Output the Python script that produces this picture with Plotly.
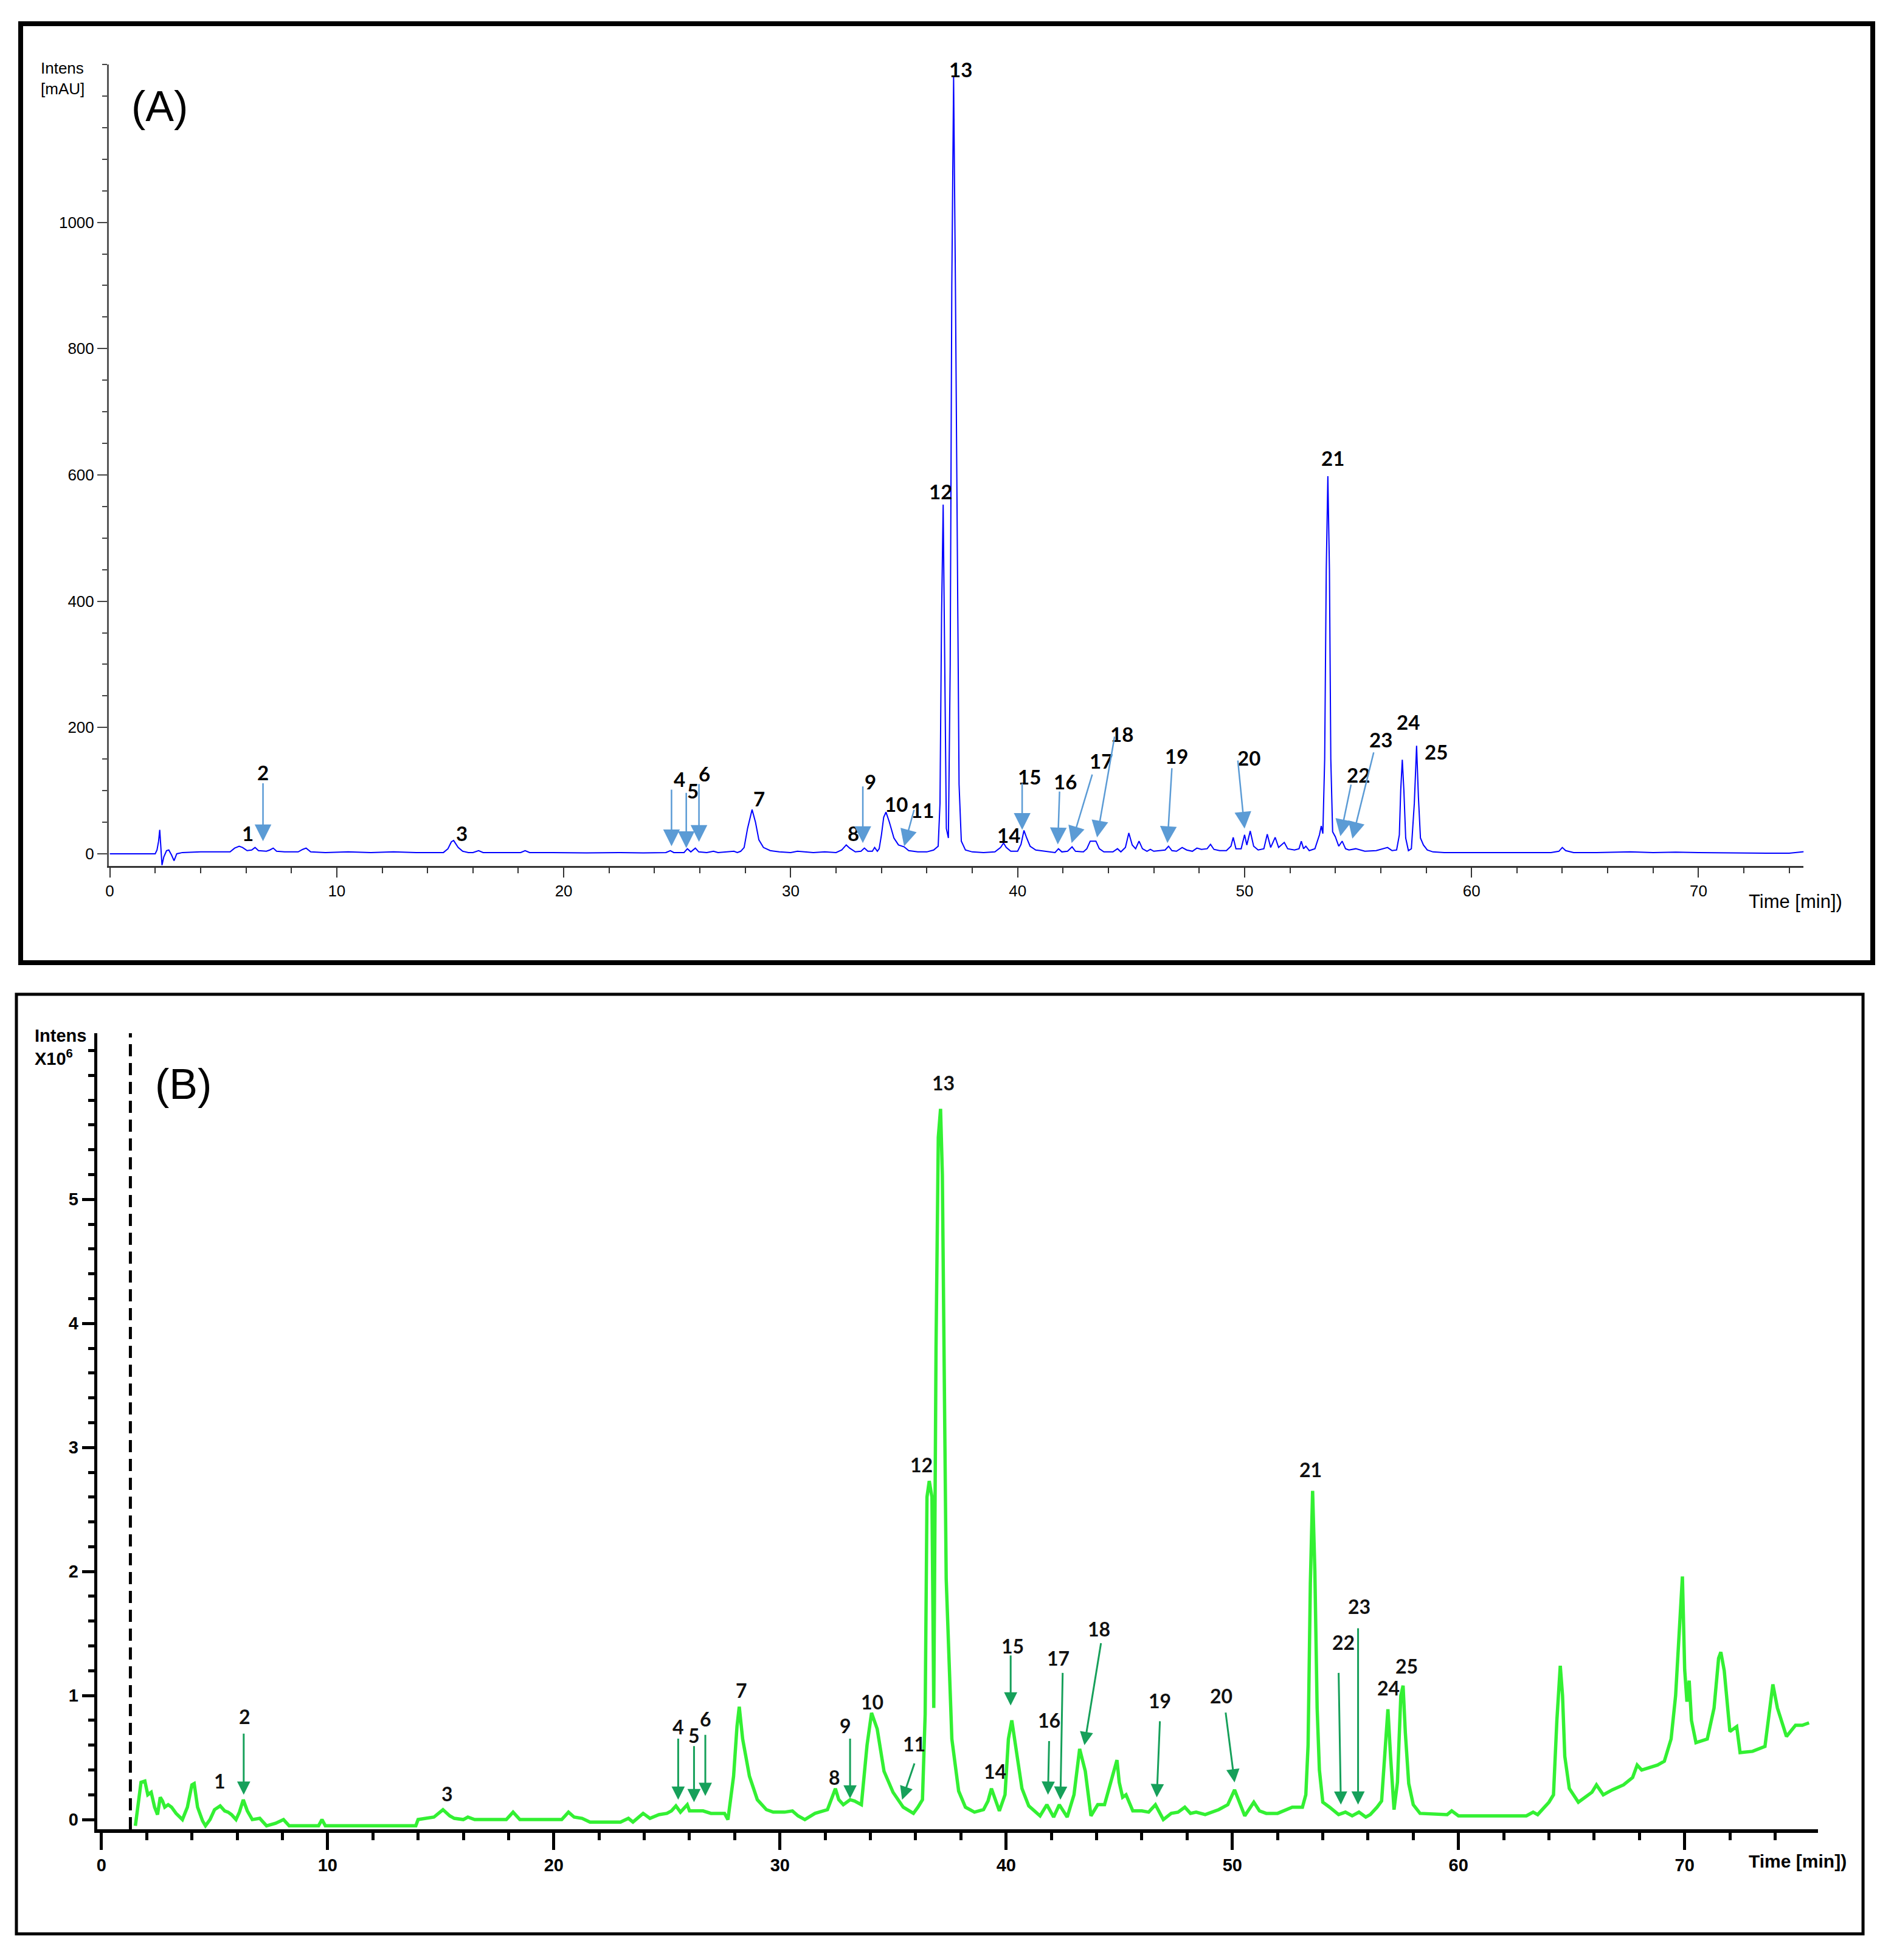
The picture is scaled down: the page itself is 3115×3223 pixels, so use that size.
import plotly.graph_objects as go

# ---------------- data ----------------
# Panel A: UV chromatogram (time [min], intensity [mAU])
A_trace = [
    (0.0, 0), (2.0, 0), (2.08, 6), (2.15, 20), (2.2, 38), (2.25, 10), (2.3, -18), (2.38, -5),
    (2.5, 5), (2.6, 6), (2.72, -2), (2.83, -11), (2.95, 0), (3.2, 2), (4.0, 3), (5.0, 3),
    (5.3, 3), (5.5, 9), (5.7, 12), (5.85, 10), (6.05, 5), (6.25, 6), (6.4, 10), (6.55, 5),
    (6.9, 4), (7.05, 6), (7.2, 9), (7.35, 4), (7.7, 3), (8.3, 3), (8.5, 7), (8.65, 9),
    (8.85, 3), (9.5, 2), (10.5, 3), (11.5, 2), (12.5, 3), (13.5, 2), (14.5, 2), (14.7, 2),
    (14.9, 8), (15.05, 19), (15.15, 21), (15.35, 10), (15.55, 4), (15.8, 2), (16.0, 2),
    (16.25, 5), (16.45, 2), (17.2, 2), (18.1, 2), (18.3, 5), (18.5, 2), (19.5, 2), (21.0, 1.5),
    (22.5, 2), (23.5, 1.5), (24.5, 2), (24.7, 5), (24.85, 2), (25.3, 2), (25.45, 8), (25.6, 3),
    (25.8, 9), (25.95, 3), (26.3, 2), (26.6, 4), (26.8, 2), (27.2, 3), (27.5, 4), (27.65, 2),
    (27.8, 4), (27.95, 10), (28.1, 40), (28.3, 70), (28.45, 50), (28.6, 22), (28.8, 10),
    (29.1, 5), (29.5, 3), (30.0, 2), (30.3, 4), (31.0, 2), (31.5, 3), (32.0, 2), (32.25, 6),
    (32.45, 14), (32.6, 9), (32.85, 3), (33.1, 4), (33.25, 9), (33.4, 4), (33.6, 4), (33.7, 10),
    (33.82, 4), (33.9, 8), (34.0, 30), (34.1, 58), (34.2, 66), (34.35, 50), (34.55, 25),
    (34.75, 14), (35.0, 11), (35.2, 5), (35.6, 3), (36.0, 3), (36.3, 6), (36.42, 10), (36.5, 12),
    (36.58, 80), (36.65, 380), (36.72, 553), (36.79, 300), (36.86, 40), (36.95, 25), (37.03, 300),
    (37.1, 900), (37.18, 1230), (37.26, 900), (37.34, 450), (37.42, 110), (37.52, 20), (37.7, 6),
    (38.0, 3), (38.5, 2), (39.0, 3), (39.25, 10), (39.38, 17), (39.5, 10), (39.7, 4), (40.0, 4),
    (40.15, 15), (40.28, 37), (40.4, 25), (40.55, 12), (40.8, 6), (41.2, 4), (41.5, 3), (41.65, 2),
    (41.8, 8), (41.95, 3), (42.2, 4), (42.4, 11), (42.55, 4), (42.9, 3), (43.05, 8), (43.2, 20),
    (43.45, 20), (43.6, 8), (43.8, 3), (44.2, 3), (44.4, 8), (44.55, 3), (44.75, 10), (44.9, 33),
    (45.05, 14), (45.2, 8), (45.35, 20), (45.5, 8), (45.7, 4), (45.85, 7), (46.0, 4), (46.3, 5),
    (46.5, 6), (46.65, 12), (46.8, 5), (47.0, 4), (47.25, 10), (47.45, 6), (47.7, 4), (47.9, 9),
    (48.1, 7), (48.35, 8), (48.5, 15), (48.65, 7), (48.9, 5), (49.2, 5), (49.4, 12), (49.5, 26),
    (49.62, 8), (49.85, 8), (50.0, 30), (50.1, 14), (50.25, 36), (50.4, 12), (50.6, 6), (50.85, 8),
    (51.0, 31), (51.15, 10), (51.35, 26), (51.5, 10), (51.75, 18), (51.9, 8), (52.2, 6), (52.4, 8),
    (52.5, 20), (52.6, 8), (52.7, 12), (52.85, 5), (53.1, 8), (53.3, 30), (53.38, 44), (53.45, 32),
    (53.53, 150), (53.6, 450), (53.67, 598), (53.74, 450), (53.8, 150), (53.88, 35), (54.0, 27),
    (54.15, 12), (54.3, 20), (54.45, 8), (54.6, 6), (54.9, 8), (55.3, 4), (55.8, 5), (56.3, 10),
    (56.5, 5), (56.7, 6), (56.82, 30), (56.88, 100), (56.95, 149), (57.02, 100), (57.1, 25),
    (57.22, 5), (57.35, 8), (57.48, 80), (57.58, 171), (57.66, 90), (57.75, 25), (57.88, 14),
    (58.05, 6), (58.3, 3), (58.8, 2), (59.5, 2), (60.5, 1.5), (61.5, 2), (62.5, 1.5), (63.5, 2),
    (63.85, 4), (64.0, 10), (64.15, 5), (64.5, 2), (65.5, 2), (66.5, 2.5), (67.0, 3), (68.0, 2),
    (69.0, 2.5), (70.0, 2), (71.0, 1.5), (72.0, 1), (73.0, 1), (74.0, 1), (74.5, 3), (74.8, 4),
]
A_time = [p[0] for p in A_trace]
A_int = [p[1] for p in A_trace]

# Panel B: MS chromatogram (time [min], intensity x10^6)
B_trace = [
    (1.5, -0.05), (1.6, 0.1), (1.75, 0.3), (1.92, 0.31), (2.05, 0.2), (2.2, 0.22), (2.35, 0.1),
    (2.48, 0.04), (2.6, 0.18), (2.7, 0.15), (2.8, 0.1), (2.95, 0.12), (3.1, 0.1), (3.3, 0.05),
    (3.58, 0.0), (3.8, 0.1), (4.0, 0.28), (4.1, 0.29), (4.25, 0.1), (4.47, -0.01), (4.6, -0.05),
    (4.8, 0.0), (5.0, 0.08), (5.25, 0.11), (5.45, 0.07), (5.6, 0.06), (5.75, 0.04), (5.95, 0.0),
    (6.1, 0.06), (6.27, 0.16), (6.45, 0.07), (6.67, 0.0), (7.0, 0.01), (7.3, -0.05), (7.7, -0.03),
    (8.05, 0.0), (8.3, -0.05), (9.6, -0.05), (9.75, 0.0), (9.9, -0.05), (13.9, -0.05), (14.0, 0.0),
    (14.35, 0.01), (14.7, 0.02), (15.1, 0.08), (15.4, 0.03), (15.6, 0.01), (16.0, 0.0), (16.2, 0.02),
    (16.5, 0.0), (17.9, 0.0), (18.2, 0.06), (18.5, 0.0), (20.35, 0.0), (20.65, 0.06), (20.9, 0.02),
    (21.25, 0.01), (21.6, -0.02), (22.95, -0.02), (23.3, 0.01), (23.5, -0.02), (23.75, 0.02),
    (23.95, 0.05), (24.25, 0.01), (24.65, 0.04), (25.0, 0.05), (25.2, 0.07), (25.4, 0.11),
    (25.6, 0.06), (25.9, 0.12), (26.0, 0.07), (26.6, 0.07), (26.95, 0.05), (27.55, 0.05),
    (27.7, 0.0), (27.95, 0.35), (28.1, 0.75), (28.2, 0.91), (28.35, 0.65), (28.5, 0.5),
    (28.65, 0.35), (29.0, 0.16), (29.4, 0.08), (29.7, 0.06), (30.2, 0.06), (30.55, 0.07),
    (30.8, 0.03), (31.1, 0.0), (31.55, 0.05), (32.1, 0.08), (32.3, 0.18), (32.45, 0.25),
    (32.6, 0.16), (32.8, 0.12), (33.1, 0.16), (33.3, 0.15), (33.6, 0.12), (33.85, 0.6),
    (34.05, 0.86), (34.3, 0.73), (34.6, 0.39), (34.8, 0.3), (35.0, 0.22), (35.45, 0.1),
    (35.9, 0.05), (36.1, 0.1), (36.3, 0.16), (36.42, 0.85), (36.5, 2.6), (36.6, 2.73),
    (36.72, 2.6), (36.8, 0.9), (36.9, 3.8), (37.0, 5.5), (37.1, 5.73), (37.18, 5.2), (37.25, 4.0),
    (37.35, 1.94), (37.6, 0.65), (37.9, 0.23), (38.2, 0.1), (38.6, 0.06), (39.0, 0.08),
    (39.2, 0.15), (39.35, 0.25), (39.5, 0.17), (39.7, 0.07), (39.95, 0.2), (40.1, 0.65),
    (40.25, 0.8), (40.45, 0.57), (40.7, 0.25), (41.0, 0.11), (41.5, 0.03), (41.8, 0.12),
    (42.1, 0.02), (42.35, 0.12), (42.7, 0.02), (43.0, 0.2), (43.25, 0.57), (43.5, 0.39),
    (43.75, 0.03), (44.05, 0.12), (44.35, 0.12), (44.7, 0.35), (44.9, 0.48), (45.0, 0.3),
    (45.15, 0.18), (45.3, 0.2), (45.6, 0.07), (46.0, 0.07), (46.3, 0.06), (46.6, 0.12),
    (46.95, 0.0), (47.3, 0.05), (47.6, 0.06), (47.9, 0.1), (48.15, 0.05), (48.4, 0.06),
    (48.8, 0.04), (49.4, 0.08), (49.8, 0.12), (50.1, 0.24), (50.35, 0.12), (50.55, 0.03),
    (50.95, 0.14), (51.2, 0.07), (51.5, 0.05), (52.0, 0.05), (52.65, 0.1), (53.1, 0.1),
    (53.25, 0.2), (53.35, 0.6), (53.45, 1.9), (53.55, 2.65), (53.65, 2.0), (53.75, 0.9),
    (53.85, 0.4), (54.0, 0.14), (54.3, 0.1), (54.7, 0.04), (55.0, 0.06), (55.3, 0.03),
    (55.6, 0.06), (55.9, 0.02), (56.1, 0.04), (56.4, 0.1), (56.6, 0.15), (56.75, 0.6),
    (56.88, 0.89), (57.0, 0.5), (57.15, 0.08), (57.3, 0.3), (57.45, 1.0), (57.55, 1.08),
    (57.65, 0.7), (57.8, 0.29), (58.0, 0.12), (58.3, 0.05), (59.5, 0.04), (59.7, 0.07),
    (60.0, 0.03), (63.0, 0.03), (63.3, 0.06), (63.5, 0.04), (63.8, 0.1), (64.0, 0.14),
    (64.2, 0.2), (64.35, 0.8), (64.5, 1.24), (64.6, 1.0), (64.7, 0.51), (64.9, 0.25),
    (65.3, 0.14), (65.6, 0.18), (65.9, 0.22), (66.1, 0.28), (66.4, 0.2), (66.8, 0.24),
    (67.3, 0.28), (67.7, 0.34), (67.9, 0.44), (68.1, 0.4), (68.5, 0.42), (68.8, 0.44),
    (69.1, 0.47), (69.4, 0.65), (69.6, 1.0), (69.8, 1.6), (69.9, 1.96), (70.0, 1.21),
    (70.1, 0.95), (70.2, 1.12), (70.3, 0.8), (70.5, 0.62), (71.0, 0.65), (71.3, 0.9),
    (71.5, 1.3), (71.6, 1.35), (71.75, 1.2), (72.0, 0.71), (72.3, 0.75), (72.45, 0.54),
    (73.0, 0.55), (73.55, 0.59), (73.75, 0.9), (73.9, 1.09), (74.1, 0.9), (74.5, 0.67),
    (74.9, 0.76), (75.2, 0.76), (75.5, 0.78),
]
B_time = [p[0] for p in B_trace]
B_int = [p[1] for p in B_trace]

peak_labels = [str(i) for i in range(1, 26)]

# peak-number label anchors (time, intensity) for each panel
A_label_t = [6.07, 6.74, 15.5, 25.1, 25.7, 26.2, 28.6, 32.75, 33.5, 34.65, 35.8, 36.6, 37.5,
             39.6, 40.52, 42.09, 43.69, 44.6, 47.0, 50.2, 53.9, 55.0, 56.0, 57.2, 58.45]
A_label_y = [33, 129, 33, 118, 100, 127, 88, 33, 115, 79, 69, 574, 1242,
             30, 122, 115, 147, 190, 155, 152, 627, 125, 181, 209, 162]
B_label_t = [5.24, 6.34, 15.3, 25.5, 26.2, 26.7, 28.3, 32.4, 32.9, 34.07, 35.94, 36.25, 37.23,
             39.5, 40.3, 41.9, 42.3, 44.1, 46.8, 49.5, 53.45, 54.9, 55.6, 56.9, 57.7]
B_label_y = [0.31, 0.83, 0.21, 0.75, 0.68, 0.81, 1.04, 0.34, 0.76, 0.95, 0.61, 2.86, 5.94,
             0.39, 1.4, 0.8, 1.3, 1.54, 0.96, 1.0, 2.82, 1.43, 1.72, 1.06, 1.24]

# arrows: label -> (tail_t, tail_y, tip_t, tip_y)
A_arrows = {
    "2": (6.75, 113, 6.75, 20), "4": (24.75, 103, 24.75, 12), "5": (25.4, 98, 25.4, 9),
    "6": (25.96, 112, 25.96, 19), "9": (33.18, 108, 33.18, 17), "11": (35.45, 71, 35.0, 12),
    "15": (40.2, 113, 40.2, 38), "16": (41.85, 100, 41.77, 15), "17": (43.3, 127, 42.38, 17),
    "18": (44.28, 187, 43.5, 26), "19": (46.8, 137, 46.6, 17), "20": (49.7, 149, 50.0, 40),
    "22": (54.7, 111, 54.22, 28), "23": (55.7, 162, 54.75, 24),
}
B_arrows = {
    "2": (6.29, 0.70, 6.29, 0.2), "4": (25.5, 0.66, 25.5, 0.16), "5": (26.2, 0.6, 26.2, 0.14),
    "6": (26.7, 0.69, 26.7, 0.19), "9": (33.1, 0.66, 33.1, 0.17), "11": (35.96, 0.46, 35.4, 0.16),
    "15": (40.2, 1.33, 40.2, 0.92), "16": (41.9, 0.64, 41.85, 0.2), "17": (42.5, 1.19, 42.4, 0.16),
    "18": (44.2, 1.43, 43.46, 0.6), "19": (46.8, 0.8, 46.66, 0.18), "20": (49.7, 0.87, 50.1, 0.3),
    "22": (54.7, 1.19, 54.8, 0.12), "23": (55.56, 1.55, 55.56, 0.12),
}

A_yticks = [0, 200, 400, 600, 800, 1000]
B_yticks = [0, 1, 2, 3, 4, 5]
x_ticks = [0, 10, 20, 30, 40, 50, 60, 70]

# ---------------- layout helpers ----------------
OFF = 8
W, H = 3115 - 2 * OFF, 3223 - 2 * OFF


def px(X):
    return (X - OFF) / W


def py(Y):
    return 1 - (Y - OFF) / H


SANS = "Liberation Sans, Arial, sans-serif"
LBL = "Lato, Liberation Sans, sans-serif"
A_BLUE = "#0000FF"
A_ARROW = "#5B9BD5"
B_GREEN = "#33F033"
B_ARROW = "#16A05A"

fig = go.Figure()
fig.add_trace(go.Scatter(x=A_time, y=A_int, mode="lines", line=dict(color=A_BLUE, width=2),
                         xaxis="x", yaxis="y", hoverinfo="skip"))
fig.add_trace(go.Scatter(x=B_time, y=B_int, mode="lines", line=dict(color=B_GREEN, width=5.5),
                         xaxis="x2", yaxis="y2", hoverinfo="skip"))

annotations = []
for lab, t, y in zip(peak_labels, A_label_t, A_label_y):
    annotations.append(dict(x=t, y=y, xref="x", yref="y", text=lab, showarrow=False,
                            font=dict(family=LBL, size=33, color="black", weight="bold"),
                            xanchor="center", yanchor="middle"))
for lab, (tt, ty, ht, hy) in A_arrows.items():
    annotations.append(dict(x=ht, y=hy, ax=tt, ay=ty, xref="x", yref="y", axref="x", ayref="y",
                            text="", showarrow=True, arrowhead=2, arrowsize=2.2, arrowwidth=2.5,
                            arrowcolor=A_ARROW, standoff=0))
for lab, t, y in zip(peak_labels, B_label_t, B_label_y):
    annotations.append(dict(x=t, y=y, xref="x2", yref="y2", text=lab, showarrow=False,
                            font=dict(family=LBL, size=32, color="#111111", weight="bold"),
                            xanchor="center", yanchor="middle"))
for lab, (tt, ty, ht, hy) in B_arrows.items():
    annotations.append(dict(x=ht, y=hy, ax=tt, ay=ty, xref="x2", yref="y2", axref="x2", ayref="y2",
                            text="", showarrow=True, arrowhead=2, arrowsize=1.45, arrowwidth=3,
                            arrowcolor=B_ARROW, standoff=0))

# panel titles / axis captions
annotations += [
    dict(x=px(60), y=py(129), xref="paper", yref="paper", text="Intens<br>[mAU]", showarrow=False,
         xanchor="left", yanchor="middle", align="left", font=dict(family=SANS, size=26, color="black")),
    dict(x=px(258), y=py(175), xref="paper", yref="paper", text="(A)", showarrow=False,
         xanchor="center", yanchor="middle", font=dict(family=SANS, size=70, color="black")),
    dict(x=px(2874), y=py(1482), xref="paper", yref="paper", text="Time [min])", showarrow=False,
         xanchor="left", yanchor="middle", font=dict(family=SANS, size=31, color="black")),
    dict(x=px(50), y=py(1722), xref="paper", yref="paper", text="Intens<br>X10<sup>6</sup>",
         showarrow=False, xanchor="left", yanchor="middle", align="left",
         font=dict(family=SANS, size=29, color="black", weight="bold")),
    dict(x=px(297), y=py(1783), xref="paper", yref="paper", text="(B)", showarrow=False,
         xanchor="center", yanchor="middle", font=dict(family=SANS, size=70, color="black")),
    dict(x=px(2874), y=py(3060), xref="paper", yref="paper", text="Time [min])", showarrow=False,
         xanchor="left", yanchor="middle",
         font=dict(family=SANS, size=30, color="black", weight="bold")),
]

shapes = [
    dict(type="rect", xref="paper", yref="paper", x0=px(29), x1=px(3080), y0=py(1583), y1=py(39),
         line=dict(color="black", width=8), fillcolor="rgba(0,0,0,0)"),
    dict(type="rect", xref="paper", yref="paper", x0=px(22), x1=px(3064), y0=py(3180), y1=py(1635),
         line=dict(color="black", width=5), fillcolor="rgba(0,0,0,0)"),
    dict(type="line", xref="x2", yref="y2", x0=1.28, x1=1.28, y0=-0.078, y1=6.34,
         line=dict(color="black", width=5, dash="20px,11px")),
]

fig.update_layout(
    width=W, height=H, margin=dict(l=0, r=0, t=0, b=0),
    paper_bgcolor="white", plot_bgcolor="white", showlegend=False,
    annotations=annotations, shapes=shapes,
    xaxis=dict(domain=[px(174), px(2966)], range=[-0.05, 74.63], anchor="y",
               showgrid=False, zeroline=False, showline=True, linecolor="#333333", linewidth=3,
               tickvals=x_ticks, ticks="outside", ticklen=16, tickwidth=2, tickcolor="#333333",
               tickfont=dict(family=SANS, size=26, color="black"),
               minor=dict(dtick=2, tick0=0, ticks="outside", ticklen=9, tickwidth=2, tickcolor="#333333")),
    yaxis=dict(domain=[py(1424), py(106)], range=[-19.3, 1250], anchor="x",
               showgrid=False, zeroline=False, showline=True, linecolor="#555555", linewidth=2.5,
               tickvals=A_yticks, ticks="outside", ticklen=16, tickwidth=2, tickcolor="#444444",
               tickfont=dict(family=SANS, size=26, color="black"),
               minor=dict(dtick=50, tick0=0, ticks="outside", ticklen=8, tickwidth=2, tickcolor="#444444")),
    xaxis2=dict(domain=[px(155), px(2990)], range=[-0.19, 75.9], anchor="y2",
                showgrid=False, zeroline=False, showline=True, linecolor="black", linewidth=6,
                tickvals=x_ticks, ticks="outside", ticklen=28, tickwidth=5, tickcolor="black",
                tickfont=dict(family=SANS, size=29, color="black", weight="bold"),
                minor=dict(dtick=2, tick0=0, ticks="outside", ticklen=12, tickwidth=5, tickcolor="black")),
    yaxis2=dict(domain=[py(3008), py(1699)], range=[-0.078, 6.34], anchor="x2",
                showgrid=False, zeroline=False, showline=True, linecolor="black", linewidth=5,
                tickvals=B_yticks, ticks="outside", ticklen=20, tickwidth=5,
                tickcolor="black", tickfont=dict(family=SANS, size=29, color="black", weight="bold"),
                minor=dict(dtick=0.2, tick0=0, ticks="outside", ticklen=10, tickwidth=5, tickcolor="black")),
)

fig.write_html("out.html")
